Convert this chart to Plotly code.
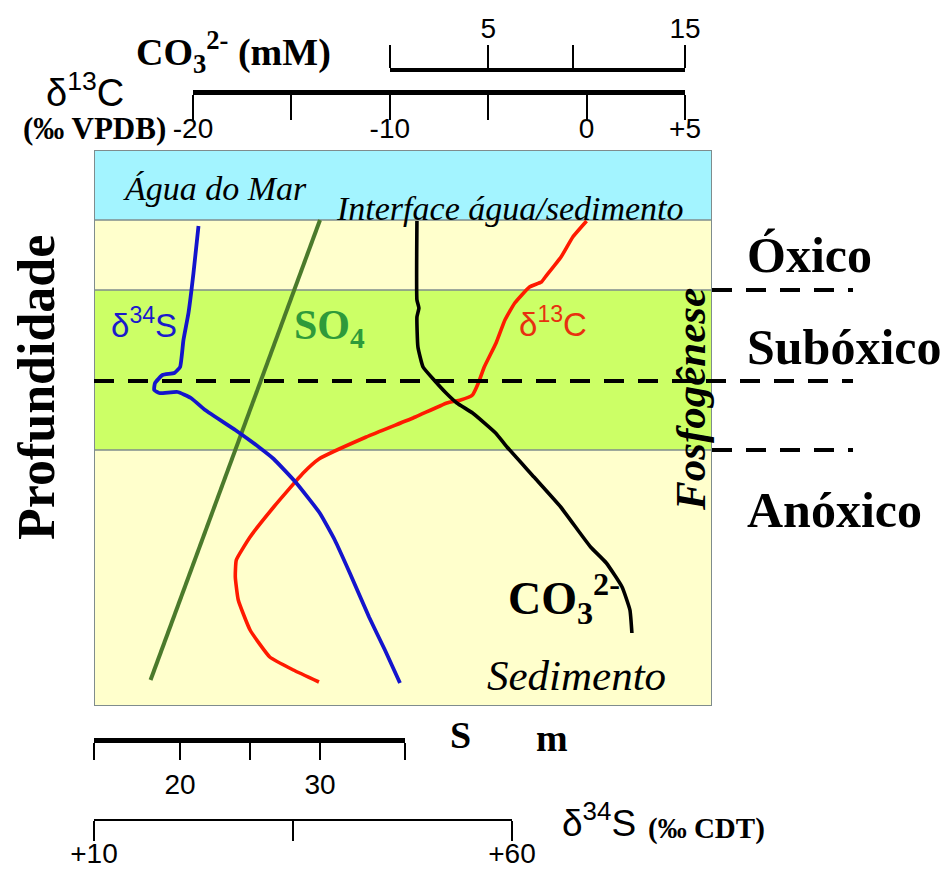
import plotly.graph_objects as go

# ---------------- data (depth in cm below the sediment-water interface) ----------------
zone_edges = [-7.0, 0.0, 7.0, 23.0, 48.6]          # sea water / oxic / suboxic / anoxic
zone_colors = ["#A3F4FF", "#FFFFCC", "#CCFF66", "#FFFFCC"]
dashed_depths = [16.1]                                # dashed line crossing the box
right_dash_depths = [7.0, 16.1, 23.0]

d34s_depth = [0.6, 5.3, 9.3, 12.0, 14.7, 15.3, 15.5, 16.3, 17.0, 17.3, 17.2, 17.8, 19.0,
              21.0, 22.7, 23.9, 26.3, 29.3, 32.0, 35.3, 39.7, 43.0, 46.3]
d34s_val = [22.5, 21.9, 21.3, 20.7, 20.3, 19.6, 18.2, 17.3, 17.2, 17.8, 20.0, 21.6, 23.3,
            26.9, 29.7, 31.5, 34.2, 37.0, 38.8, 40.6, 42.9, 44.8, 46.6]

d13c_depth = [0.1, 1.7, 3.7, 5.7, 6.2, 6.7, 8.3, 10.0, 12.3, 14.7, 16.3, 17.5, 18.0, 18.3,
              19.7, 21.7, 23.9, 25.3, 28.7, 31.7, 34.0, 35.7, 38.0, 41.0, 43.7, 45.0, 46.2]
d13c_val = [0.0, -0.7, -1.3, -2.1, -2.3, -2.9, -3.65, -4.15, -4.6, -5.2, -5.5, -5.8, -6.4, -7.1,
            -8.7, -11.2, -13.6, -14.4, -15.9, -17.1, -17.8, -17.85, -17.7, -17.1, -16.1, -14.9, -13.6]

co3_depth = [0.1, 8.0, 8.8, 9.7, 12.7, 14.7, 16.0, 17.3, 18.3, 19.3, 21.3, 22.7, 25.7, 28.7,
             31.3, 32.7, 34.3, 36.7, 39.0, 41.3]
co3_val = [1.37, 1.37, 1.47, 1.37, 1.42, 1.68, 2.24, 2.85, 3.4, 4.2, 5.37, 5.95, 7.32, 8.68,
           9.66, 10.2, 11.0, 11.8, 12.2, 12.3]

so4_depth = [0.0, 46.0]
so4_val = [30.0, 17.9]

d13c_ticks = [-20, -15, -10, -5, 0, 5]
d13c_ticktext = ["-20", "", "-10", "", "0", "+5"]
co3_ticks = [0, 5, 9.3, 15]
co3_ticktext = ["", "5", "", "15"]
so4_ticks = [13.86, 20, 25, 30, 36.07]
so4_ticktext = ["", "20", "", "30", ""]
d34s_ticks = [10, 33.8, 60]
d34s_ticktext = ["+10", "", "+60"]

# ---------------- layout helpers ----------------
W, H = 944, 870
def px(x):
    return x / W
def py(y):
    return 1 - y / H

SERIF = "Liberation Serif"
SANS = "Liberation Sans"
BOX_L, BOX_R, BOX_T, BOX_B = 94, 712, 150, 706

fig = go.Figure()

fig.add_trace(go.Scatter(x=so4_val, y=so4_depth, xaxis="x4", yaxis="y", mode="lines",
                         line=dict(color="#4B7A2B", width=4), hoverinfo="skip", showlegend=False))
fig.add_trace(go.Scatter(x=d34s_val, y=d34s_depth, xaxis="x5", yaxis="y", mode="lines",
                         line=dict(color="#1414CC", width=3.8, shape="spline", smoothing=0.4),
                         hoverinfo="skip", showlegend=False))
fig.add_trace(go.Scatter(x=d13c_val, y=d13c_depth, xaxis="x2", yaxis="y", mode="lines",
                         line=dict(color="#FF1A00", width=3.6, shape="spline", smoothing=0.4),
                         hoverinfo="skip", showlegend=False))
fig.add_trace(go.Scatter(x=co3_val, y=co3_depth, xaxis="x3", yaxis="y", mode="lines",
                         line=dict(color="black", width=3.6, shape="spline", smoothing=0.4),
                         hoverinfo="skip", showlegend=False))

shapes = []
for i, c in enumerate(zone_colors):
    shapes.append(dict(type="rect", xref="x", yref="y", x0=0, x1=1,
                       y0=zone_edges[i], y1=zone_edges[i + 1], fillcolor=c,
                       line=dict(width=0), layer="below"))
for e in zone_edges[1:-1]:
    shapes.append(dict(type="line", xref="x", yref="y", x0=0, x1=1, y0=e, y1=e,
                       line=dict(color="#7F8C8D", width=1.5), layer="below"))
shapes.append(dict(type="rect", xref="x", yref="y", x0=0, x1=1, y0=zone_edges[0],
                   y1=zone_edges[-1], line=dict(color="#7F8C8D", width=2)))
for d in dashed_depths:
    shapes.append(dict(type="line", xref="paper", yref="y", x0=px(BOX_L), x1=px(853), y0=d, y1=d,
                       line=dict(color="black", width=4, dash="20px,14px")))
for d in right_dash_depths:
    if d in dashed_depths:
        continue
    shapes.append(dict(type="line", xref="paper", yref="y", x0=px(BOX_R), x1=px(853), y0=d, y1=d,
                       line=dict(color="black", width=4, dash="20px,14px")))

ann = []
def A(text, x, y, size, family=SERIF, color="black", xanchor="center", yanchor="middle", angle=0):
    ann.append(dict(text=text, x=px(x), y=py(y), xref="paper", yref="paper", showarrow=False,
                    xanchor=xanchor, yanchor=yanchor, textangle=angle,
                    font=dict(size=size, family=family, color=color)))

A("δ<sup>13</sup>C", 85, 90, 38, SANS)
A("<b>(‰ VPDB)</b>", 168, 128, 31, SERIF, xanchor="right")
A("<b>CO<sub>3</sub><sup>2-</sup> (mM)</b>", 233, 52, 38)
A("<b>Profundidade</b>", 36, 388, 52, angle=-90)
A("<i>Água do Mar</i>", 215, 188, 34)
A("<i>Interface água/sedimento</i>", 510, 208, 34)
A("δ<sup>34</sup>S", 144, 323, 33, SANS, color="#1A1ACC")
A("<b>SO<sub>4</sub></b>", 329, 328, 42, color="#2E9A3A")
A("δ<sup>13</sup>C", 553, 322, 33, SANS, color="#E8300F")
A("<b><i>Fosfogênese</i></b>", 690, 400, 43, angle=-90)
A("<b>CO<sub>3</sub><sup>2-</sup></b>", 564, 598, 46)
A("<i>Sedimento</i>", 576, 675, 43)
A("<b>S</b>", 460, 735, 38)
A("<b>m</b>", 552, 738, 38)
A("<b>Óxico</b>", 745, 255, 50, xanchor="left")
A("<b>Subóxico</b>", 745, 347, 50, xanchor="left")
A("<b>Anóxico</b>", 745, 510, 50, xanchor="left")
A("δ<sup>34</sup>S", 560, 820, 37, SANS, xanchor="left")
A("<b>(‰ CDT)</b>", 646, 828, 29, SERIF, xanchor="left")

tickfont = dict(size=28, family=SANS, color="black")
common = dict(anchor="free", showgrid=False, zeroline=False, showline=True, linecolor="black",
              ticks="outside", tickcolor="black", tickwidth=2, tickfont=tickfont, automargin=False,
              fixedrange=True)

fig.update_layout(
    width=W, height=H, margin=dict(l=0, r=0, t=0, b=0),
    paper_bgcolor="white", plot_bgcolor="rgba(0,0,0,0)", showlegend=False,
    xaxis=dict(domain=[px(BOX_L), px(BOX_R)], range=[0, 1], visible=False, fixedrange=True),
    yaxis=dict(domain=[py(BOX_B), py(BOX_T)], range=[zone_edges[-1], zone_edges[0]],
               visible=False, anchor="x", fixedrange=True),
    xaxis2=dict(domain=[px(193), px(685)], range=[-20, 5], position=py(92), side="bottom",
                linewidth=5, ticklen=25, tickvals=d13c_ticks, ticktext=d13c_ticktext,
                ticklabelstandoff=-16, **common),
    xaxis3=dict(domain=[px(390), px(685)], range=[0, 15], position=py(70), side="top",
                linewidth=4, ticklen=23, tickvals=co3_ticks, ticktext=co3_ticktext,
                ticklabelstandoff=-4, **common),
    xaxis4=dict(domain=[px(94), px(405)], range=[13.86, 36.07], position=py(740), side="bottom",
                linewidth=5, ticklen=17, tickvals=so4_ticks, ticktext=so4_ticktext,
                ticklabelstandoff=0, **common),
    xaxis5=dict(domain=[px(94), px(512)], range=[10, 60], position=py(820), side="bottom",
                linewidth=2, ticklen=20, tickvals=d34s_ticks, ticktext=d34s_ticktext,
                ticklabelstandoff=-12, **common),
    shapes=shapes, annotations=ann,
)

fig.write_html("out.html", config={"displayModeBar": False},
               post_script="document.body.style.margin='0';document.body.style.overflow='hidden';")
